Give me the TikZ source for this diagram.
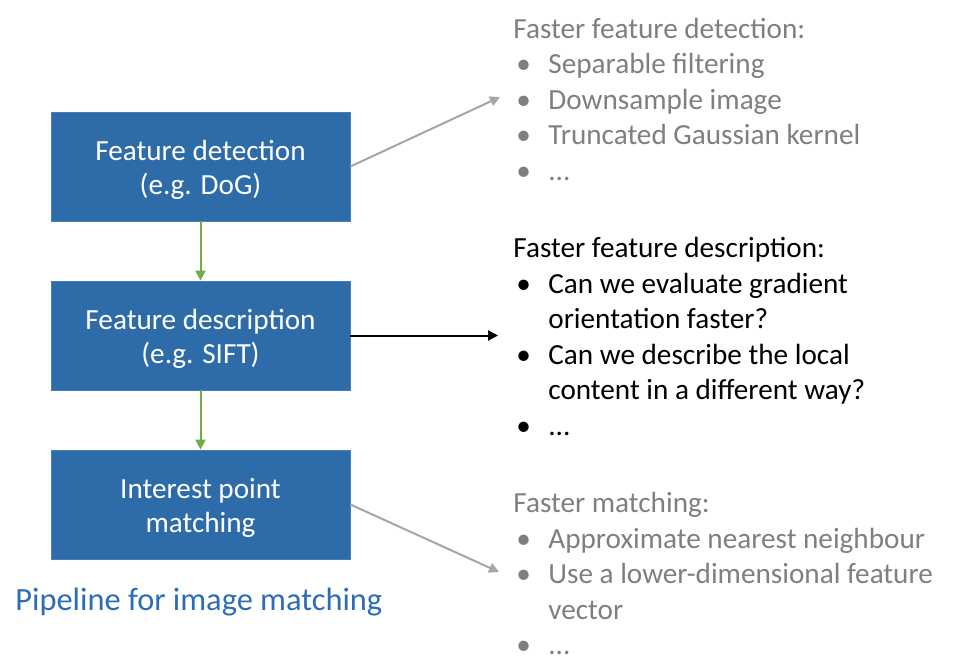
\documentclass[tikz,border=0pt]{standalone}
\usepackage{fontspec}
\setmainfont{Carlito}
\usetikzlibrary{arrows.meta}
\definecolor{boxblue}{HTML}{2E6CA9}
\definecolor{boxedge}{HTML}{4A7EBB}
\definecolor{titleblue}{HTML}{2E6DB4}
\definecolor{softgray}{HTML}{7F7F7F}
\definecolor{arrowgray}{HTML}{A6A6A6}
\definecolor{flowgreen}{HTML}{70AD47}
\tikzset{
  stage/.style={rectangle, fill=boxblue, draw=boxedge, line width=0.4pt,
    minimum width=149.5pt, minimum height=54.5pt, inner sep=0pt},
  stagetext/.style={inner sep=0pt, text=white, align=center,
    font=\fontsize{14.6}{17}\selectfont},
  notes/.style={anchor=base west, inner sep=0pt, align=left,
    font=\fontsize{14.6}{17.75}\selectfont},
  flow/.style={draw=flowgreen, line width=1pt, -{Triangle[length=5pt,width=5pt]}},
  hint/.style={draw=arrowgray, line width=1pt, -{Triangle[length=5pt,width=5pt]}},
  focus/.style={draw=black, line width=1pt, -{Triangle[length=5pt,width=5pt]}}
}
\newcommand{\bul}{\hspace{1.5pt}\textbullet}
\begin{document}
\begin{tikzpicture}[x=0.5pt,y=-0.5pt]
  \useasboundingbox (0,0) rectangle (974,670);

  % pipeline stages
  \node[stage] (det) at (200.5,166.5) {};
  \node[stage] (desc) at (200.5,335.5) {};
  \node[stage] (match) at (200.5,504.5) {};
  \node[stagetext] (detlbl) at ([yshift=-1.5pt]det.center) {Feature detection\\(e.g. DoG)};
  \node[stagetext] (desclbl) at ([yshift=-1.5pt]desc.center) {Feature description\\(e.g. SIFT)};
  \node[stagetext] (matchlbl) at ([yshift=-1.5pt]match.center) {Interest point\\matching};

  \node[anchor=base west, inner sep=0pt, text=titleblue,
        font=\fontsize{16.2}{19}\selectfont] (title) at (15,610)
        {Pipeline for image matching};

  % notes beside each stage
  \node[notes, text=softgray] (ndet) at (513,38)
    {\begin{tabular}[t]{@{}p{17.5pt}@{}l@{}}
      \multicolumn{2}{@{}l@{}}{Faster feature detection:}\\
      \bul & Separable filtering\\
      \bul & Downsample image\\
      \bul & Truncated Gaussian kernel\\
      \bul & ...
    \end{tabular}};
  \node[notes, text=black] (ndesc) at (513,257.5)
    {\begin{tabular}[t]{@{}p{17.5pt}@{}l@{}}
      \multicolumn{2}{@{}l@{}}{Faster feature description:}\\
      \bul & Can we evaluate gradient\\
           & orientation faster?\\
      \bul & Can we describe the local\\
           & content in a different way?\\
      \bul & ...
    \end{tabular}};
  \node[notes, text=softgray] (nmatch) at (513,512.5)
    {\begin{tabular}[t]{@{}p{17.5pt}@{}l@{}}
      \multicolumn{2}{@{}l@{}}{Faster matching:}\\
      \bul & Approximate nearest neighbour\\
      \bul & Use a lower-dimensional feature\\
           & vector\\
      \bul & ...
    \end{tabular}};

  % arrow ends next to the notes
  \coordinate (tdet) at (500,97);
  \coordinate (tdesc) at (498,335.5);
  \coordinate (tmatch) at (499,572);

  % connectors
  \draw[flow] (det) -- (desc);
  \draw[flow] (desc) -- (match);
  \draw[hint] (det.east) -- (tdet);
  \draw[focus] (desc.east) -- (tdesc);
  \draw[hint] (match.east) -- (tmatch);
\end{tikzpicture}
\end{document}
